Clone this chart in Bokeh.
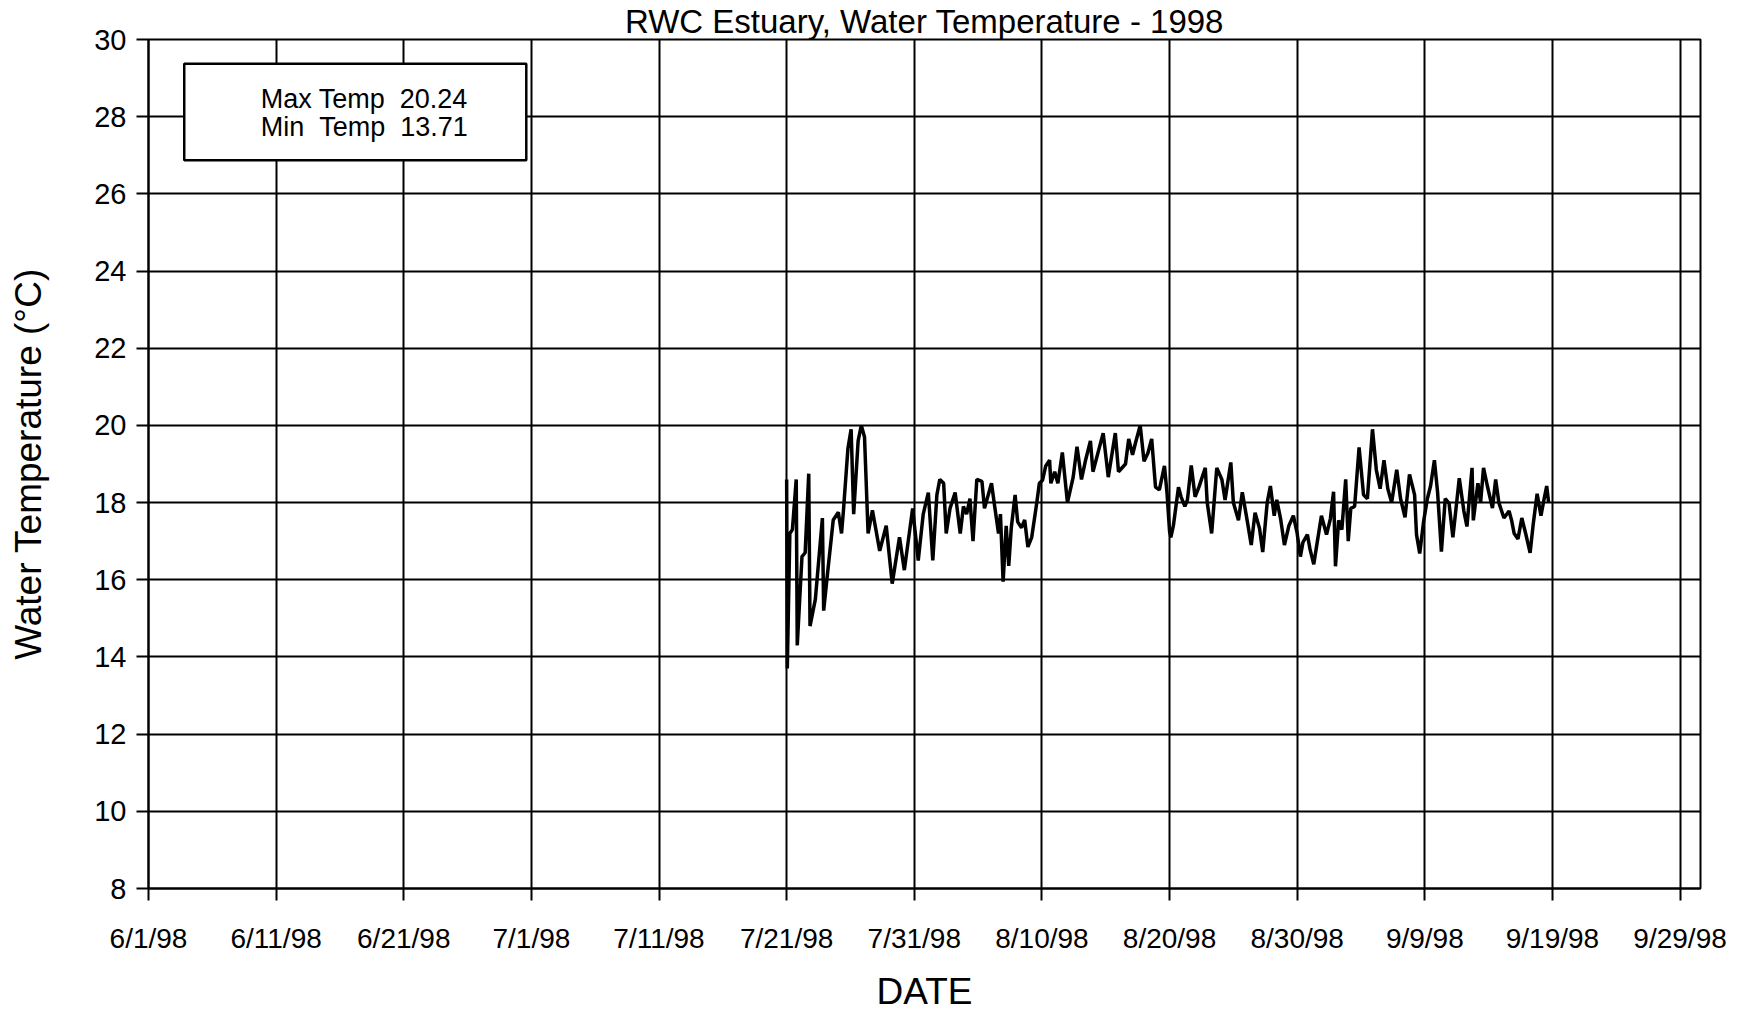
from bokeh.plotting import figure
from bokeh.models import FixedTicker, BoxAnnotation, Label, Range1d
from bokeh.embed import file_html
from bokeh.resources import INLINE

# ---- data (days since 6/1/98, water temperature in deg C) ----
day = [
    50.0, 50.05, 50.25, 50.45, 50.75, 50.83, 51.2, 51.45, 51.73, 51.83,
    52.25, 52.8, 52.9, 53.15, 53.65, 54.05, 54.3, 54.45, 54.8, 55.05,
    55.25, 55.6, 55.85, 56.1, 56.38, 56.72, 57.29, 57.8, 58.27, 58.84,
    59.22, 59.87, 60.31, 60.7, 61.1, 61.45, 61.77, 62.0, 62.3, 62.5,
    62.8, 63.2, 63.6, 63.85, 64.1, 64.36, 64.6, 64.9, 65.3, 65.5,
    66.05, 66.3, 66.6, 66.75, 66.96, 67.2, 67.4, 67.6, 67.9, 68.1,
    68.4, 68.65, 68.9, 69.2, 69.6, 69.8, 70.05, 70.3, 70.6, 70.7,
    71.0, 71.25, 71.6, 72.0, 72.45, 72.75, 73.1, 73.4, 73.8, 74.0,
    74.4, 74.8, 75.2, 75.75, 76.0, 76.55, 76.8, 77.1, 77.35, 77.7,
    78.0, 78.3, 78.6, 78.9, 79.2, 79.6, 79.8, 80.0, 80.1, 80.3,
    80.7, 80.9, 81.2, 81.4, 81.7, 82.0, 82.3, 82.8, 82.95, 83.3,
    83.7, 84.1, 84.35, 84.8, 85.0, 85.4, 85.7, 86.1, 86.4, 86.7,
    87.05, 87.3, 87.65, 87.9, 88.2, 88.4, 88.7, 89.0, 89.35, 89.7,
    90.0, 90.25, 90.45, 90.8, 91.0, 91.3, 91.55, 91.9, 92.3, 92.6,
    92.85, 93.0, 93.25, 93.5, 93.8, 94.0, 94.2, 94.5, 94.85, 95.2,
    95.5, 95.9, 96.2, 96.5, 96.8, 97.1, 97.4, 97.8, 98.1, 98.45,
    98.8, 99.2, 99.35, 99.6, 99.9, 100.2, 100.45, 100.75, 101.0, 101.3,
    101.6, 101.9, 102.2, 102.7, 103.06, 103.3, 103.7, 103.8, 104.16, 104.37,
    104.6, 104.9, 105.3, 105.55, 105.8, 106.2, 106.6, 106.8, 107.0, 107.3,
    107.6, 107.9, 108.25, 108.5, 108.8, 109.1, 109.35, 109.55, 109.7,
]
temp = [
    18.6, 13.7, 17.2, 17.3, 18.6, 14.3, 16.6, 16.7, 18.75, 14.8,
    15.5, 17.6, 15.2, 16.0, 17.55, 17.75, 17.2, 17.8, 19.4, 19.9,
    17.7, 19.6, 20.0, 19.7, 17.2, 17.8, 16.75, 17.4, 15.9, 17.1,
    16.25, 17.85, 16.5, 17.7, 18.26, 16.5, 18.2, 18.6, 18.5, 17.2,
    17.85, 18.26, 17.2, 17.9, 17.7, 18.1, 17.0, 18.6, 18.55, 17.85,
    18.5, 17.9, 17.2, 17.7, 15.95, 17.4, 16.36, 17.35, 18.2, 17.5,
    17.35, 17.55, 16.85, 17.1, 18.0, 18.5, 18.58, 18.95, 19.1, 18.5,
    18.8, 18.5, 19.3, 18.0, 18.66, 19.45, 18.6, 19.07, 19.6, 18.8,
    19.3, 19.8, 18.66, 19.8, 18.8, 19.0, 19.65, 19.24, 19.57, 20.0,
    19.07, 19.28, 19.65, 18.4, 18.33, 18.95, 18.25, 17.26, 17.1, 17.4,
    18.4, 18.15, 17.9, 18.07, 18.96, 18.15, 18.4, 18.9, 18.0, 17.2,
    18.9, 18.6, 18.07, 19.04, 18.0, 17.54, 18.27, 17.5, 16.9, 17.74,
    17.33, 16.72, 18.0, 18.43, 17.66, 18.07, 17.58, 16.9, 17.4, 17.66,
    17.2, 16.6, 16.97, 17.17, 16.8, 16.4, 16.93, 17.66, 17.17, 17.58,
    18.28, 16.35, 17.54, 17.3, 18.6, 17.0, 17.85, 17.9, 19.43, 18.2,
    18.1, 19.9, 18.85, 18.36, 19.1, 18.36, 18.0, 18.85, 18.1, 17.62,
    18.73, 18.2, 17.17, 16.68, 17.5, 18.1, 18.43, 19.1, 18.27, 16.73,
    18.1, 17.98, 17.1, 18.63, 17.78, 17.38, 18.9, 17.54, 18.5, 18.0,
    18.9, 18.43, 17.86, 18.6, 18.0, 17.6, 17.78, 17.54, 17.2, 17.06,
    17.6, 17.2, 16.7, 17.46, 18.23, 17.66, 18.1, 18.43, 18.0,
]
assert len(day) == len(temp)

tick_days = [0, 10, 20, 30, 40, 50, 60, 70, 80, 90, 100, 110, 120]
tick_labels = ["6/1/98", "6/11/98", "6/21/98", "7/1/98", "7/11/98", "7/21/98",
               "7/31/98", "8/10/98", "8/20/98", "8/30/98", "9/9/98", "9/19/98",
               "9/29/98"]
y_ticks = [8, 10, 12, 14, 16, 18, 20, 22, 24, 26, 28, 30]

title_text = "RWC Estuary, Water Temperature - 1998"
max_temp = "20.24"
min_temp = "13.71"

FONT = "Liberation Sans"
NB = "\u00a0"

p = figure(width=1735, height=1022, output_backend="svg", toolbar_location=None,
           x_range=Range1d(0, 121.6), y_range=Range1d(8, 30),
           min_border_left=148, min_border_right=35, min_border_bottom=134,
           min_border_top=0)

p.title.text = title_text
p.title.align = "center"
p.title.text_font = FONT
p.title.text_font_size = "33px"
p.title.text_font_style = "normal"
p.title.text_color = "black"
p.title.standoff = 0
p.title.offset = 0

p.background_fill_color = "white"
p.border_fill_color = "white"
p.outline_line_color = "black"
p.outline_line_width = 2

# axes
p.xaxis.ticker = FixedTicker(ticks=tick_days)
p.xaxis.major_label_overrides = {d: l for d, l in zip(tick_days, tick_labels)}
p.yaxis.ticker = FixedTicker(ticks=y_ticks)
for ax in (p.xaxis, p.yaxis):
    ax.axis_line_color = "black"
    ax.axis_line_width = 2
    ax.major_tick_line_color = "black"
    ax.major_tick_line_width = 2
    ax.major_tick_out = 12
    ax.major_tick_in = 0
    ax.minor_tick_line_color = None
    ax.major_label_text_font = FONT
    ax.major_label_text_color = "black"
    ax.axis_label_text_font = FONT
    ax.axis_label_text_font_style = "normal"
    ax.axis_label_text_color = "black"

p.xaxis.major_label_text_font_size = "28px"
p.xaxis.major_label_standoff = 22
p.xaxis.axis_label = "DATE"
p.xaxis.axis_label_text_font_size = "37px"
p.xaxis.axis_label_standoff = 14

p.yaxis.major_label_text_font_size = "29px"
p.yaxis.major_label_standoff = 10
p.yaxis.axis_label = "Water Temperature (\u00b0C)"
p.yaxis.axis_label_text_font_size = "37px"
p.yaxis.axis_label_standoff = 42

# grid
p.xgrid.ticker = FixedTicker(ticks=tick_days)
p.ygrid.ticker = FixedTicker(ticks=y_ticks)
for g in (p.xgrid, p.ygrid):
    g.grid_line_color = "black"
    g.grid_line_width = 2
    g.grid_line_alpha = 1.0

# data line
p.line(day, temp, line_color="black", line_width=3.5)

# stats box
box = BoxAnnotation(left=2.8, right=29.6, bottom=26.87, top=29.37,
                    fill_color="white", fill_alpha=1.0,
                    line_color="black", line_alpha=1.0, line_width=2.5)
p.add_layout(box)
stat_lines = ["Max Temp" + NB + NB + max_temp, "Min" + NB + NB + "Temp" + NB + NB + min_temp]
for yy, txt in zip((28.45, 27.72), stat_lines):
    p.add_layout(Label(x=16.9, y=yy, text=txt, text_align="center",
                       text_baseline="middle", text_font=FONT,
                       text_font_size="27px", text_color="black"))

open("out.html", "w").write(file_html(p, INLINE))
